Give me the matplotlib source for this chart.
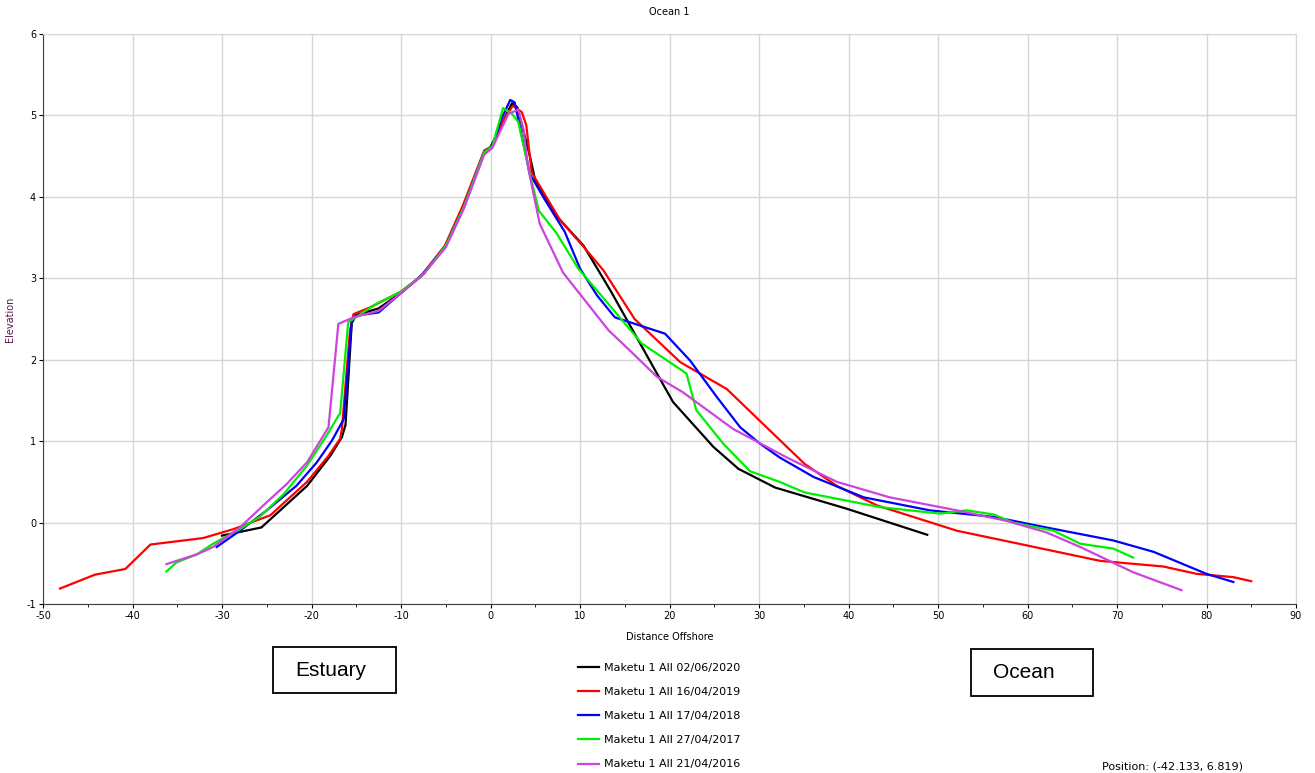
import matplotlib.pyplot as plt
from matplotlib.ticker import MultipleLocator
from matplotlib.patches import Rectangle

plt.rcParams['axes.unicode_minus'] = False

# survey profiles (distance offshore, elevation)
x_2020 = [-30.0, -25.6, -20.5, -17.9, -16.6, -16.2, -15.5, -15.0, -12.5, -10.0, -7.5, -5.0, -3.0, -0.6, 0.0, 1.5, 2.4, 3.0, 4.4, 5.0, 7.5, 10.4, 13.4, 15.9, 18.6, 20.4, 24.9, 27.7, 31.8, 39.8, 48.8]
y_2020 = [-0.16, -0.06, 0.45, 0.82, 1.05, 1.2, 2.45, 2.55, 2.63, 2.82, 3.05, 3.4, 3.87, 4.57, 4.61, 4.95, 5.15, 5.1, 4.5, 4.2, 3.75, 3.4, 2.85, 2.36, 1.83, 1.48, 0.93, 0.66, 0.43, 0.17, -0.15]

x_2019 = [-48.1, -44.2, -40.8, -38.0, -32.1, -28.7, -24.6, -20.5, -18.1, -16.8, -16.6, -15.7, -15.3, -13.5, -10.1, -7.9, -5.1, -3.1, -0.7, 0.2, 1.2, 2.5, 3.5, 4.0, 4.6, 7.8, 10.3, 12.6, 16.1, 21.2, 26.4, 31.6, 35.1, 38.7, 43.2, 52.1, 59.9, 68.1, 75.2, 78.9, 83.0, 85.0]
y_2019 = [-0.81, -0.64, -0.57, -0.27, -0.19, -0.08, 0.09, 0.5, 0.82, 1.03, 1.15, 2.36, 2.56, 2.64, 2.83, 3.01, 3.4, 3.89, 4.57, 4.62, 4.9, 5.12, 5.04, 4.88, 4.3, 3.71, 3.4, 3.1, 2.5, 1.97, 1.64, 1.09, 0.72, 0.45, 0.21, -0.1, -0.28, -0.47, -0.54, -0.63, -0.67, -0.72]

x_2018 = [-30.6, -28.0, -25.0, -21.7, -19.4, -17.7, -16.4, -15.5, -15.1, -12.5, -10.1, -7.5, -5.0, -3.0, -0.7, 0.2, 1.2, 2.2, 2.7, 4.4, 6.1, 8.3, 10.0, 11.9, 13.9, 19.5, 22.3, 25.3, 27.9, 30.1, 32.3, 36.1, 41.7, 49.1, 56.2, 62.1, 69.6, 74.1, 80.0, 83.0]
y_2018 = [-0.3, -0.1, 0.15, 0.45, 0.74, 1.01, 1.27, 2.48, 2.54, 2.58, 2.81, 3.06, 3.4, 3.87, 4.55, 4.62, 4.95, 5.19, 5.16, 4.28, 3.96, 3.57, 3.12, 2.79, 2.52, 2.32, 1.99, 1.54, 1.17, 0.97, 0.8, 0.56, 0.31, 0.15, 0.07, -0.06, -0.22, -0.36, -0.63, -0.73]

x_2017 = [-36.2, -35.1, -32.8, -31.0, -28.0, -25.8, -23.1, -20.5, -18.3, -17.0, -16.8, -15.9, -12.7, -10.1, -7.5, -5.0, -3.0, -0.7, 0.2, 1.4, 2.4, 3.1, 4.4, 5.4, 7.4, 9.8, 11.9, 16.9, 21.9, 23.0, 26.0, 29.0, 32.3, 35.1, 43.5, 50.2, 53.2, 56.2, 58.4, 62.9, 65.9, 69.6, 71.8]
y_2017 = [-0.6, -0.49, -0.39, -0.26, -0.08, 0.07, 0.35, 0.7, 1.07, 1.31, 1.34, 2.46, 2.69, 2.83, 3.05, 3.4, 3.87, 4.55, 4.62, 5.09, 5.02, 4.92, 4.28, 3.83, 3.55, 3.12, 2.85, 2.2, 1.83, 1.38, 0.97, 0.63, 0.5, 0.37, 0.19, 0.11, 0.15, 0.1, 0.0, -0.1, -0.26, -0.32, -0.43]

x_2016 = [-36.2, -32.8, -31.0, -28.0, -25.0, -22.8, -20.5, -18.1, -17.0, -15.3, -12.5, -10.1, -7.5, -5.0, -3.0, -0.7, 0.2, 2.0, 3.1, 3.7, 4.2, 5.5, 8.1, 13.2, 15.6, 18.6, 21.5, 27.1, 33.1, 38.7, 44.6, 52.1, 57.7, 62.1, 65.9, 71.8, 77.2]
y_2016 = [-0.51, -0.39, -0.3, -0.06, 0.25, 0.47, 0.74, 1.17, 2.44, 2.52, 2.6, 2.81, 3.05, 3.38, 3.85, 4.52, 4.6, 5.02, 5.07, 4.82, 4.36, 3.67, 3.07, 2.36, 2.11, 1.79, 1.6, 1.15, 0.8, 0.5, 0.31, 0.15, 0.02, -0.12, -0.3, -0.61, -0.83]

labels = ["Maketu 1 All 02/06/2020", "Maketu 1 All 16/04/2019", "Maketu 1 All 17/04/2018",
          "Maketu 1 All 27/04/2017", "Maketu 1 All 21/04/2016"]
colors = ["#000000", "#ff0000", "#0000ff", "#00ee00", "#cc44dd"]

fig = plt.figure(figsize=(13.15, 7.73), dpi=100)
ax = fig.add_axes([43/1315, 1 - 604/773, (1296-43)/1315, (604-34)/773])

series = [(x_2020, y_2020), (x_2019, y_2019), (x_2018, y_2018), (x_2017, y_2017), (x_2016, y_2016)]
for (xs, ys), c, lab in zip(series, colors, labels):
    ax.plot(xs, ys, color=c, lw=1.6, label=lab)

ax.set_xlim(-50, 90)
ax.set_ylim(-1, 6)
ax.xaxis.set_major_locator(MultipleLocator(10))
ax.xaxis.set_minor_locator(MultipleLocator(5))
ax.yaxis.set_major_locator(MultipleLocator(1))
ax.grid(True, which='major', color='#d6d6d6', lw=1)
ax.set_axisbelow(True)
ax.tick_params(labelsize=7, length=3, width=0.8, pad=2)
ax.tick_params(which='minor', length=2)
for s in ['top', 'right']:
    ax.spines[s].set_color('#d6d6d6')
for s in ['left', 'bottom']:
    ax.spines[s].set_color('#404040')

ax.set_title("Ocean 1", fontsize=7, pad=14)
ax.set_xlabel("Distance Offshore", fontsize=7, labelpad=8)
ax.set_ylabel("Elevation", fontsize=7, color='#5a1a4a')
ax.yaxis.set_label_coords(-0.022, 0.5)

fig.legend(loc='upper left', bbox_to_anchor=(568/1315, 1 - 653/773), frameon=False,
           fontsize=8, handlelength=1.9, handletextpad=0.4, labelspacing=1.27)

# Estuary / Ocean boxes
fig.patches.append(Rectangle((273/1315, 1 - 693/773), 123/1315, 46/773, transform=fig.transFigure,
                             fc='white', ec='black', lw=1.3))
fig.patches.append(Rectangle((971/1315, 1 - 696/773), 122/1315, 47/773, transform=fig.transFigure,
                             fc='white', ec='black', lw=1.3))
fig.text(331/1315, 1 - 670/773, "Estuary", fontsize=15, family='Liberation Sans',
         ha='center', va='center')
fig.text(1024/1315, 1 - 672/773, "Ocean", fontsize=15, family='Liberation Sans',
         ha='center', va='center')
fig.text(1102/1315, 0.002, "Position: (-42.133, 6.819)", fontsize=8, ha='left', va='bottom')

fig.savefig("out.png", dpi=100)
